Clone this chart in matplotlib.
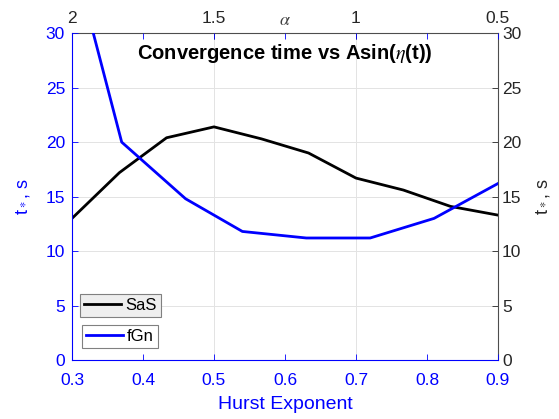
import matplotlib
matplotlib.use("Agg")
import matplotlib.pyplot as plt

# fGn curve: convergence time vs Hurst exponent (bottom / left axes)
hurst = [0.30, 0.37, 0.46, 0.54, 0.63, 0.72, 0.81, 0.90]
t_fgn = [37.5, 20.0, 14.8, 11.8, 11.2, 11.2, 13.0, 16.2]

# SaS curve: convergence time vs alpha (top / right axes)
alpha = [2.0, 1.833, 1.667, 1.5, 1.333, 1.167, 1.0, 0.833, 0.667, 0.5]
t_sas = [13.0, 17.2, 20.4, 21.4, 20.3, 19.0, 16.7, 15.6, 14.1, 13.3]

h_ticks = [0.3, 0.4, 0.5, 0.6, 0.7, 0.8, 0.9]
a_ticks = [2, 1.5, 1, 0.5]
a_labels = ["2", "1.5", "1", "0.5"]
y_ticks = [0, 5, 10, 15, 20, 25, 30]

plt.rcParams["font.family"] = ["Liberation Sans", "DejaVu Sans"]
plt.rcParams["mathtext.fontset"] = "stix"

BLUE = "#0000ff"
GREY = "#262626"

fig = plt.figure(figsize=(5.59, 4.19), dpi=100)
pos = [0.1288, 0.1408, 0.762, 0.780]

# black (alpha) axes underneath, carries the grid
ax2 = fig.add_axes(pos, label="alpha")
ax2.plot(alpha, t_sas, color="black", lw=2.0, label="SaS")
ax2.set_xlim(2, 0.5)
ax2.set_ylim(0, 30)
ax2.xaxis.tick_top()
ax2.yaxis.tick_right()
ax2.yaxis.set_label_position("right")
ax2.set_xticks(a_ticks)
ax2.set_xticklabels(a_labels)
ax2.set_yticks(y_ticks)
ax2.tick_params(direction="in", length=4, width=0.6, colors=GREY, labelsize=12.5, pad=3)
ax2.tick_params(axis="x", pad=5)
ax2.grid(True, color="#e3e3e3", lw=0.7)
ax2.set_axisbelow(True)
for s in ("left", "bottom"):
    ax2.spines[s].set_visible(False)
for s in ("top", "right"):
    ax2.spines[s].set_color("#4d4d4d")
    ax2.spines[s].set_linewidth(0.8)
ax2.set_ylabel(r"t$_*$, s", color=GREY, fontsize=13, labelpad=9)
ax2.annotate(r"$\alpha$", xy=(0.5, 1.0), xycoords="axes fraction", xytext=(0, 3),
             textcoords="offset points", ha="center", va="bottom", fontsize=13, color="#404040")
leg2 = ax2.legend(loc="upper left", bbox_to_anchor=(0.019, 0.202), borderaxespad=0,
                  fancybox=False, edgecolor="#808080", facecolor="#eeeeee", framealpha=1,
                  fontsize=12, handlelength=2.2, handletextpad=0.25, borderpad=0.25)
leg2.get_frame().set_linewidth(0.8)

# blue (Hurst) axes on top, transparent
ax1 = fig.add_axes(pos, label="hurst")
ax1.patch.set_visible(False)
ax1.plot(hurst, t_fgn, color=BLUE, lw=2.0, label="fGn")
ax1.set_xlim(0.3, 0.9)
ax1.set_ylim(0, 30)
ax1.set_xticks(h_ticks)
ax1.set_xticklabels([f"{v:.1f}" for v in h_ticks])
ax1.set_yticks(y_ticks)
ax1.tick_params(direction="in", length=4, width=0.6, colors=BLUE, labelsize=12.5,
                top=True, labeltop=False, pad=5)
ax1.tick_params(axis="x", pad=9)
for s in ("top", "right"):
    ax1.spines[s].set_visible(False)
for s in ("left", "bottom"):
    ax1.spines[s].set_color(BLUE)
    ax1.spines[s].set_linewidth(0.8)
ax1.set_xlabel("Hurst Exponent", color=BLUE, fontsize=14, labelpad=6)
ax1.set_ylabel(r"t$_*$, s", color=BLUE, fontsize=13, labelpad=10)
leg1 = ax1.legend(loc="upper left", bbox_to_anchor=(0.023, 0.107), borderaxespad=0,
                  fancybox=False, edgecolor="#808080", facecolor="white", framealpha=1,
                  fontsize=12, handlelength=2.2, handletextpad=0.25, borderpad=0.25)
leg1.get_frame().set_linewidth(0.8)

ax1.text(0.5, 0.939, r"Convergence time vs Asin($\eta$(t))", transform=ax1.transAxes,
         ha="center", va="center", fontsize=14.5, fontweight="bold", color="black")

fig.savefig("out.png", dpi=100)
